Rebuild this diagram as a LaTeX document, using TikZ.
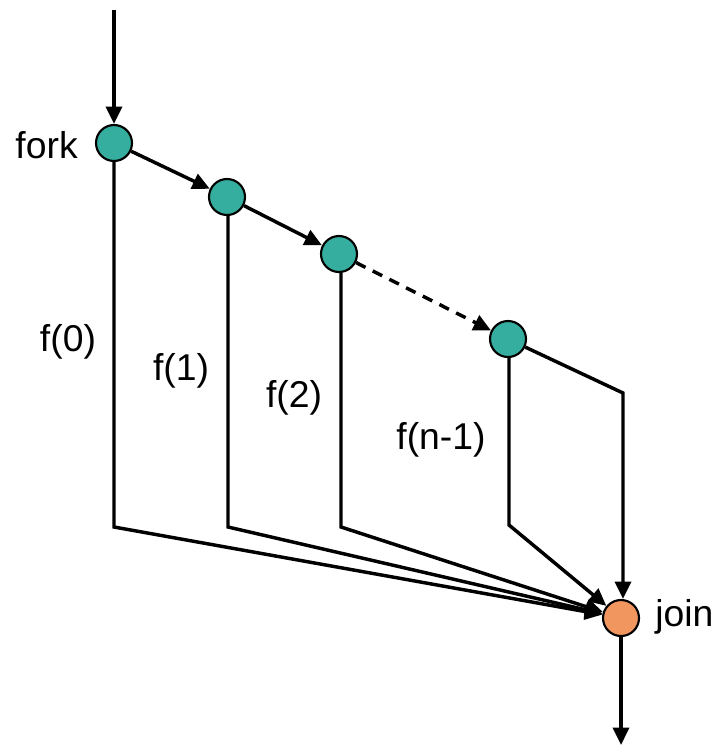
\documentclass[tikz,border=0pt]{standalone}
\usepackage{fontspec}
\setmainfont{Liberation Sans}
\usetikzlibrary{arrows.meta}
\definecolor{teal1}{HTML}{35AE9F}
\definecolor{orange1}{HTML}{F2965F}
\begin{document}
\begin{tikzpicture}[x=0.75pt,y=-0.75pt,
  dot/.style={circle,draw=black,line width=1.6pt,minimum size=27pt,inner sep=0pt},
  tnode/.style={dot,fill=teal1},
  jnode/.style={dot,fill=orange1},
  conn/.style={line width=2.6pt,-{Triangle[length=13pt,width=12pt]}},
  lbl/.style={font=\fontsize{28}{32}\selectfont,inner sep=0pt}]
\useasboundingbox (0,0) rectangle (719,747);
\node[tnode] (fork) at (114,143) {};
\node[tnode] (n1) at (227,197) {};
\node[tnode] (n2) at (339,254) {};
\node[tnode] (n3) at (508,339) {};
\node[jnode] (join) at (621,618) {};
\coordinate (top) at (114,10);
\coordinate (bot) at (621,745);
\coordinate (b0) at (114,527);
\coordinate (b1) at (228,527);
\coordinate (b2) at (341,527);
\coordinate (b3) at (509,525);
\coordinate (r3) at (623,393);
\draw[conn] (top) -- (fork);
\draw[conn] (fork) -- (n1);
\draw[conn] (n1) -- (n2);
\draw[conn,dash pattern=on 8pt off 6pt] (n2) -- (n3);
\draw[conn] (fork) -- (b0) -- (join);
\draw[conn] (n1.south -| b1) -- (b1) -- (join);
\draw[conn] (n2.south -| b2) -- (b2) -- (join);
\draw[conn] (n3.south -| b3) -- (b3) -- (join);
\draw[conn] (n3) -- (r3) -- (join.north -| r3);
\draw[conn] (join) -- (bot);
\node[lbl,anchor=east] (lfork) at (78,145) {fork};
\node[lbl] (l0) at (68,342) {f(0)};
\node[lbl] (l1) at (181,371) {f(1)};
\node[lbl] (l2) at (294,398) {f(2)};
\node[lbl] (l3) at (441,440) {f(n-1)};
\node[lbl,anchor=west] (ljoin) at (655,617) {join};
\end{tikzpicture}
\end{document}
